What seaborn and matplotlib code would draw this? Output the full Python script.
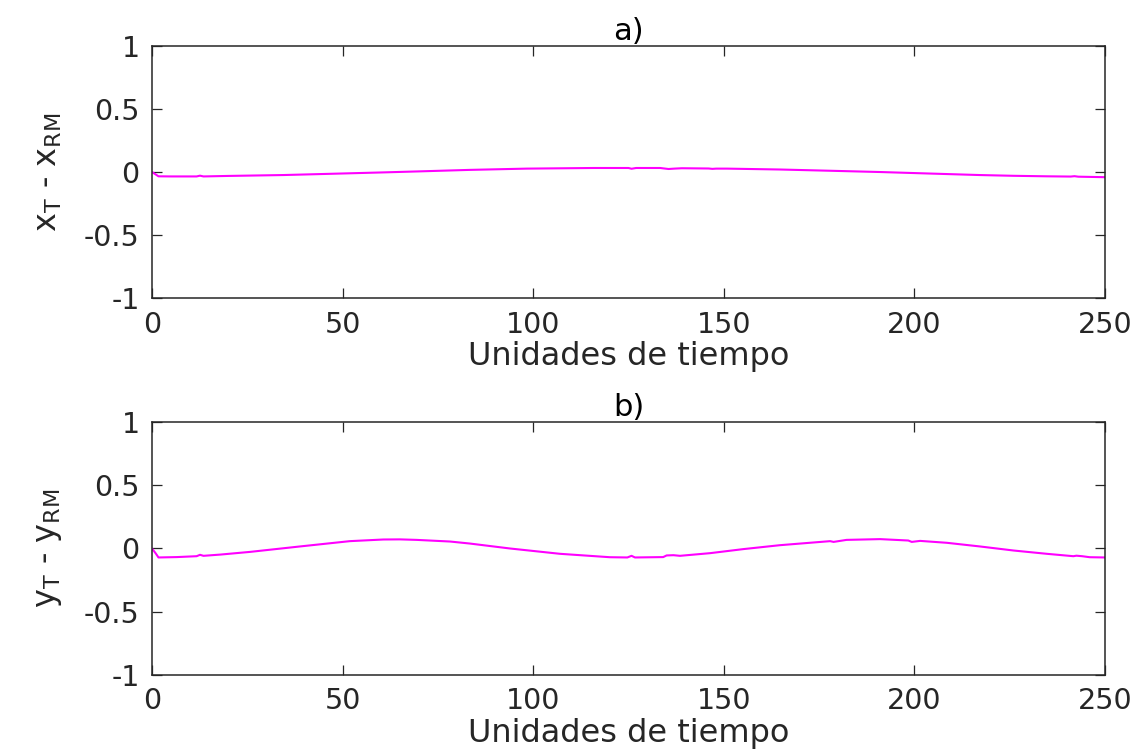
import matplotlib
matplotlib.use("Agg")
import matplotlib.pyplot as plt
import seaborn as sns
import pandas as pd

# Tracking error along x: time samples and error values
t_x = [0, 1, 1.7, 5, 11.7, 12.6, 13.5, 20, 34.4, 47, 60.7, 70, 83.4, 98.3,
       115.8, 125, 125.8, 127, 133.3, 135.5, 137, 139, 146, 147, 148, 150.8,
       164.7, 178, 191, 204, 217.2, 226, 234.7, 241, 242, 243, 250]
err_x = [0.0, -0.020, -0.034, -0.035, -0.035, -0.029, -0.035, -0.031, -0.024,
         -0.014, -0.003, 0.005, 0.017, 0.027, 0.032, 0.032, 0.026, 0.032,
         0.032, 0.024, 0.027, 0.030, 0.028, 0.025, 0.027, 0.027, 0.020,
         0.010, 0.0, -0.012, -0.024, -0.030, -0.034, -0.036, -0.033, -0.037,
         -0.041]

# Tracking error along y
t_y = [0, 1, 1.7, 6.5, 11.7, 12.6, 13.5, 18, 25.7, 38.8, 51.9, 60.7, 65,
       69.4, 78.2, 83.4, 93.9, 107, 120.1, 124.7, 125.8, 126.7, 134.1, 135,
       136.8, 138.5, 146.4, 155.1, 164.7, 177.9, 178.8, 182.2, 191, 198.4,
       199.3, 201.5, 208.5, 217.2, 226, 234.7, 241.7, 242.5, 244, 246, 250]
err_y = [0.0, -0.040, -0.071, -0.068, -0.061, -0.050, -0.058, -0.048, -0.027,
         0.016, 0.058, 0.071, 0.072, 0.068, 0.055, 0.039, 0.0, -0.042, -0.069,
         -0.071, -0.058, -0.071, -0.068, -0.055, -0.053, -0.058, -0.037,
         -0.005, 0.026, 0.058, 0.052, 0.068, 0.074, 0.063, 0.052, 0.060,
         0.045, 0.016, -0.016, -0.042, -0.061, -0.057, -0.061, -0.069, -0.071]

x_ticks = [0, 50, 100, 150, 200, 250]
x_tick_labels = ["0", "50", "100", "150", "200", "250"]
y_ticks = [-1, -0.5, 0, 0.5, 1]
y_tick_labels = ["-1", "-0.5", "0", "0.5", "1"]

panel_titles = ["a)", "b)"]
y_labels = [r"x$_\mathregular{T}$ - x$_\mathregular{RM}$",
            r"y$_\mathregular{T}$ - y$_\mathregular{RM}$"]
x_label = "Unidades de tiempo"

sns.set_theme(style="ticks")
plt.rcParams["font.family"] = ["DejaVu Sans"]
plt.rcParams["mathtext.fontset"] = "custom"
plt.rcParams["mathtext.rm"] = "DejaVu Sans"

ink = "#262626"
line_color = "#ff00ff"

fig = plt.figure(figsize=(11.42, 7.53), dpi=100)
fig.patch.set_facecolor("white")

axes_rects = [
    [0.1331, 0.6042, 0.8345, 0.3347],
    [0.1331, 0.1036, 0.8345, 0.3360],
]
series = [
    pd.DataFrame({"t": t_x, "e": err_x}),
    pd.DataFrame({"t": t_y, "e": err_y}),
]

for rect, df, title, ylab in zip(axes_rects, series, panel_titles, y_labels):
    ax = fig.add_axes(rect)
    sns.lineplot(data=df, x="t", y="e", ax=ax, color=line_color,
                 linewidth=1.5, sort=False, estimator=None)
    ax.set_xlim(0, 250)
    ax.set_ylim(-1, 1)
    ax.set_xticks(x_ticks)
    ax.set_xticklabels(x_tick_labels)
    ax.set_yticks(y_ticks)
    ax.set_yticklabels(y_tick_labels)
    ax.tick_params(axis="both", which="major", direction="in", length=7.5,
                   width=0.9, color=ink, labelcolor=ink, labelsize=20.5,
                   top=True, right=True, pad=9)
    for side in ["left", "right", "top", "bottom"]:
        ax.spines[side].set_visible(True)
        ax.spines[side].set_color(ink)
        ax.spines[side].set_linewidth(1.1)
    ax.set_xlabel(x_label, fontsize=23, color=ink, labelpad=2)
    ax.set_ylabel(ylab, fontsize=23, color=ink, labelpad=14)
    ax.set_title(title, fontsize=22, color="black", pad=4)
    ax.set_facecolor("white")

fig.savefig("out.png", dpi=100, facecolor="white")
